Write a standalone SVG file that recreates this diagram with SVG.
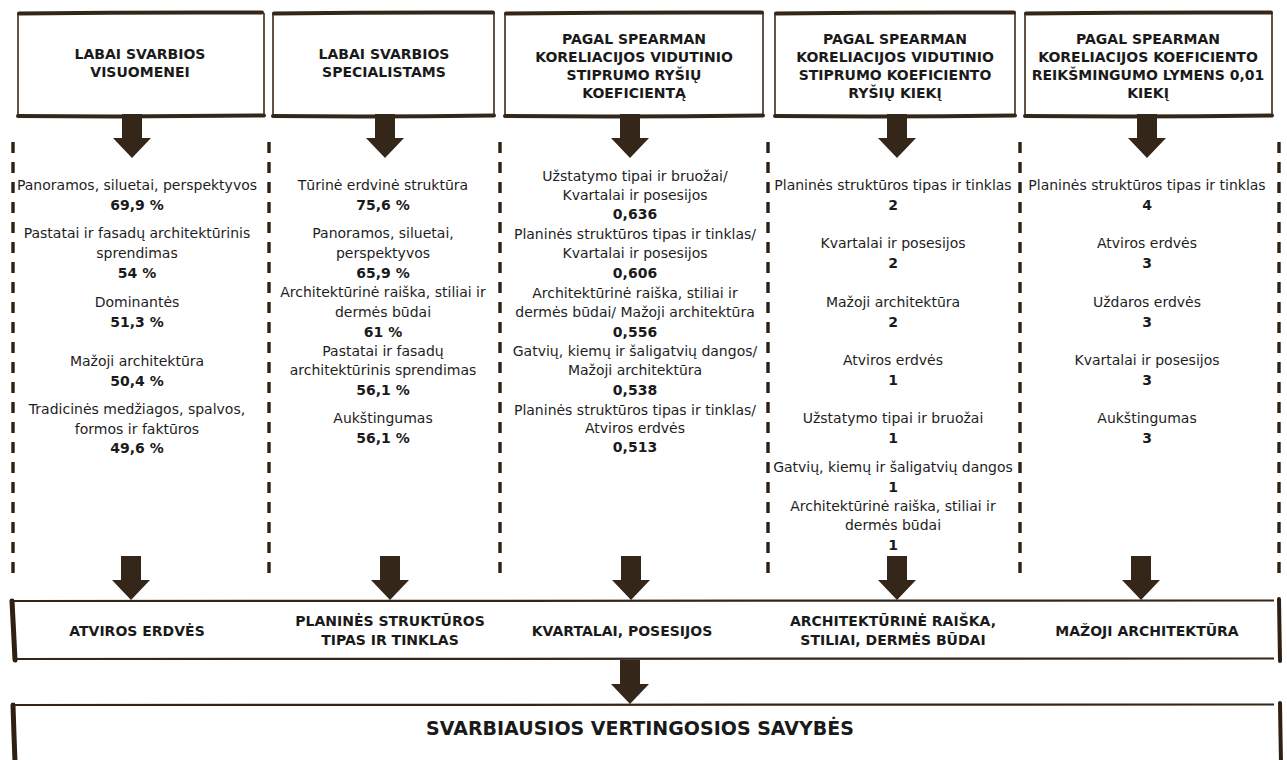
<svg xmlns="http://www.w3.org/2000/svg" width="1287" height="760" viewBox="0 0 1287 760">
<defs>
<style>
.bg{fill:#ffffff}
.side{fill:none;stroke:#3a2a1b;stroke-width:1.6}
.thick{fill:none;stroke:#35261a;stroke-width:4;stroke-linecap:round}
.thin{fill:none;stroke:#35261a;stroke-width:2.2}
.brk{fill:none;stroke:#2e2013;stroke-width:5;stroke-linecap:round}
.dash{fill:none;stroke:#2e2013;stroke-width:3.4;stroke-dasharray:11 9}
.arr{fill:#35261a}
.h{font-family:"DejaVu Sans",Verdana,sans-serif;font-weight:bold;font-size:14px;fill:#1a1a1a;text-anchor:middle}
.t{font-family:"DejaVu Sans",Verdana,sans-serif;font-size:14px;fill:#1e1e1e;text-anchor:middle}
.v{font-family:"DejaVu Sans",Verdana,sans-serif;font-weight:bold;font-size:14px;fill:#1a1a1a;text-anchor:middle}
.title{font-family:"DejaVu Sans",Verdana,sans-serif;font-weight:bold;font-size:19px;fill:#1a1a1a;text-anchor:middle}
</style>
<path id="arrow" d="M-10,0 H10 V24 H19 L0,44 L-19,24 H-10 Z"/>
</defs>
<rect width="1287" height="760" fill="#ffffff"/>

<g id="separators">
<line class="dash" x1="13" y1="142" x2="13" y2="582"/>
<line class="dash" x1="269" y1="142" x2="269" y2="582"/>
<line class="dash" x1="500" y1="142" x2="500" y2="582"/>
<line class="dash" x1="768" y1="142" x2="768" y2="582"/>
<line class="dash" x1="1020" y1="142" x2="1020" y2="582"/>
<line class="dash" x1="1279" y1="142" x2="1279" y2="582"/>
</g>

<g id="head1">
<rect class="bg" x="18" y="13" width="246" height="103"/>
<path class="side" d="M18,13 V116 M264,13 V116"/>
<path class="thick" d="M19,13.5 Q140,12 262,12.5 M18,116 Q140,117 264,115.5"/>
<text class="h" x="140" y="59">LABAI SVARBIOS</text>
<text class="h" x="140" y="77">VISUOMENEI</text>
</g>
<g id="head2">
<rect class="bg" x="273" y="13" width="221" height="103"/>
<path class="side" d="M273,13 V116 M494,13 V116"/>
<path class="thick" d="M274,13.5 Q384,12 493,12.5 M273,116 Q384,117 494,115.5"/>
<text class="h" x="384" y="59">LABAI SVARBIOS</text>
<text class="h" x="384" y="77">SPECIALISTAMS</text>
</g>
<g id="head3">
<rect class="bg" x="505" y="13" width="258" height="103"/>
<path class="side" d="M505,13 V116 M763,13 V116"/>
<path class="thick" d="M506,13.5 Q634,12 762,12.5 M505,116 Q634,117 763,115.5"/>
<text class="h" x="634" y="44">PAGAL SPEARMAN</text>
<text class="h" x="634" y="62">KORELIACIJOS VIDUTINIO</text>
<text class="h" x="634" y="80">STIPRUMO RYŠIŲ</text>
<text class="h" x="634" y="98">KOEFICIENTĄ</text>
</g>
<g id="head4">
<rect class="bg" x="775" y="13" width="240" height="103"/>
<path class="side" d="M775,13 V116 M1015,13 V116"/>
<path class="thick" d="M776,13.5 Q895,12 1014,12.5 M775,116 Q895,117 1015,115.5"/>
<text class="h" x="895" y="44">PAGAL SPEARMAN</text>
<text class="h" x="895" y="62">KORELIACIJOS VIDUTINIO</text>
<text class="h" x="895" y="80">STIPRUMO KOEFICIENTO</text>
<text class="h" x="895" y="98">RYŠIŲ KIEKĮ</text>
</g>
<g id="head5">
<rect class="bg" x="1025" y="13" width="247" height="103"/>
<path class="side" d="M1025,13 V116 M1272,13 V116"/>
<path class="thick" d="M1026,13.5 Q1148,12 1271,12.5 M1025,116 Q1148,117 1272,115.5"/>
<text class="h" x="1148" y="44">PAGAL SPEARMAN</text>
<text class="h" x="1148" y="62">KORELIACIJOS KOEFICIENTO</text>
<text class="h" x="1148" y="80">REIKŠMINGUMO LYMENS 0,01</text>
<text class="h" x="1148" y="98">KIEKĮ</text>
</g>

<g id="col1">
<text class="t" x="137" y="190">Panoramos, siluetai, perspektyvos</text>
<text class="v" x="137" y="210">69,9 %</text>
<text class="t" x="137" y="238">Pastatai ir fasadų architektūrinis</text>
<text class="t" x="137" y="258">sprendimas</text>
<text class="v" x="137" y="278">54 %</text>
<text class="t" x="137" y="307">Dominantės</text>
<text class="v" x="137" y="327">51,3 %</text>
<text class="t" x="137" y="366">Mažoji architektūra</text>
<text class="v" x="137" y="386">50,4 %</text>
<text class="t" x="137" y="414">Tradicinės medžiagos, spalvos,</text>
<text class="t" x="137" y="434">formos ir faktūros</text>
<text class="v" x="137" y="453">49,6 %</text>
</g>
<g id="col2">
<text class="t" x="383" y="190">Tūrinė erdvinė struktūra</text>
<text class="v" x="383" y="210">75,6 %</text>
<text class="t" x="383" y="238">Panoramos, siluetai,</text>
<text class="t" x="383" y="258">perspektyvos</text>
<text class="v" x="383" y="278">65,9 %</text>
<text class="t" x="383" y="297">Architektūrinė raiška, stiliai ir</text>
<text class="t" x="383" y="317">dermės būdai</text>
<text class="v" x="383" y="337">61 %</text>
<text class="t" x="383" y="356">Pastatai ir fasadų</text>
<text class="t" x="383" y="375">architektūrinis sprendimas</text>
<text class="v" x="383" y="395">56,1 %</text>
<text class="t" x="383" y="423">Aukštingumas</text>
<text class="v" x="383" y="443">56,1 %</text>
</g>
<g id="col3">
<text class="t" x="635" y="181">Užstatymo tipai ir bruožai/</text>
<text class="t" x="635" y="200">Kvartalai ir posesijos</text>
<text class="v" x="635" y="219">0,636</text>
<text class="t" x="635" y="239">Planinės struktūros tipas ir tinklas/</text>
<text class="t" x="635" y="258">Kvartalai ir posesijos</text>
<text class="v" x="635" y="278">0,606</text>
<text class="t" x="635" y="298">Architektūrinė raiška, stiliai ir</text>
<text class="t" x="635" y="317">dermės būdai/ Mažoji architektūra</text>
<text class="v" x="635" y="337">0,556</text>
<text class="t" x="635" y="356">Gatvių, kiemų ir šaligatvių dangos/</text>
<text class="t" x="635" y="375">Mažoji architektūra</text>
<text class="v" x="635" y="395">0,538</text>
<text class="t" x="635" y="415">Planinės struktūros tipas ir tinklas/</text>
<text class="t" x="635" y="433">Atviros erdvės</text>
<text class="v" x="635" y="452">0,513</text>
</g>
<g id="col4">
<text class="t" x="893" y="190">Planinės struktūros tipas ir tinklas</text>
<text class="v" x="893" y="210">2</text>
<text class="t" x="893" y="248">Kvartalai ir posesijos</text>
<text class="v" x="893" y="268">2</text>
<text class="t" x="893" y="307">Mažoji architektūra</text>
<text class="v" x="893" y="327">2</text>
<text class="t" x="893" y="365">Atviros erdvės</text>
<text class="v" x="893" y="385">1</text>
<text class="t" x="893" y="423">Užstatymo tipai ir bruožai</text>
<text class="v" x="893" y="443">1</text>
<text class="t" x="893" y="472">Gatvių, kiemų ir šaligatvių dangos</text>
<text class="v" x="893" y="492">1</text>
<text class="t" x="893" y="511">Architektūrinė raiška, stiliai ir</text>
<text class="t" x="893" y="530">dermės būdai</text>
<text class="v" x="893" y="550">1</text>
</g>
<g id="col5">
<text class="t" x="1147" y="190">Planinės struktūros tipas ir tinklas</text>
<text class="v" x="1147" y="210">4</text>
<text class="t" x="1147" y="248">Atviros erdvės</text>
<text class="v" x="1147" y="268">3</text>
<text class="t" x="1147" y="307">Uždaros erdvės</text>
<text class="v" x="1147" y="327">3</text>
<text class="t" x="1147" y="365">Kvartalai ir posesijos</text>
<text class="v" x="1147" y="385">3</text>
<text class="t" x="1147" y="423">Aukštingumas</text>
<text class="v" x="1147" y="443">3</text>
</g>

<g id="middle">
<path class="thin" d="M12,601 Q640,599.5 1274,600.5 M14,659 Q640,660 1274,658.5"/>
<path class="brk" d="M12,601 L13.5,630 L15,660"/>
<path class="brk" d="M1279,599 L1279.5,630 L1280,661" style="stroke-width:4"/>
<text class="h" x="137" y="636">ATVIROS ERDVĖS</text>
<text class="h" x="390" y="626">PLANINĖS STRUKTŪROS</text>
<text class="h" x="390" y="645">TIPAS IR TINKLAS</text>
<text class="h" x="622" y="636">KVARTALAI, POSESIJOS</text>
<text class="h" x="893" y="626">ARCHITEKTŪRINĖ RAIŠKA,</text>
<text class="h" x="893" y="645">STILIAI, DERMĖS BŪDAI</text>
<text class="h" x="1147" y="636">MAŽOJI ARCHITEKTŪRA</text>
</g>

<g id="bottom">
<path class="thin" d="M12,705 Q640,703.5 1274,704.5"/>
<path class="brk" d="M13,705 L14,735 L15,762"/>
<path class="brk" d="M1280,703 L1280.5,735 L1281,762" style="stroke-width:4"/>
<text class="title" x="640" y="735">SVARBIAUSIOS VERTINGOSIOS SAVYBĖS</text>
</g>

<g id="connectors">
<use href="#arrow" class="arr" transform="translate(132,114)"/>
<use href="#arrow" class="arr" transform="translate(385,114)"/>
<use href="#arrow" class="arr" transform="translate(630,114)"/>
<use href="#arrow" class="arr" transform="translate(897,114)"/>
<use href="#arrow" class="arr" transform="translate(1147,114)"/>
<use href="#arrow" class="arr" transform="translate(131,556)"/>
<use href="#arrow" class="arr" transform="translate(390,556)"/>
<use href="#arrow" class="arr" transform="translate(631,556)"/>
<use href="#arrow" class="arr" transform="translate(897,556)"/>
<use href="#arrow" class="arr" transform="translate(1141,556)"/>
<use href="#arrow" class="arr" transform="translate(630,660)"/>
</g>
</svg>
